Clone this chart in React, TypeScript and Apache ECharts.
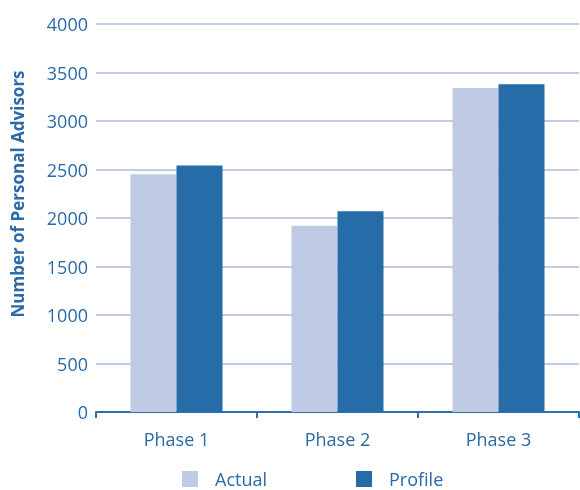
import React, { useEffect, useRef } from "react";
import * as echarts from "echarts";

const categories = ["Phase 1", "Phase 2", "Phase 3"];
const actual = [2450, 1920, 3340];
const profile = [2540, 2070, 3380];
const yTicks = [0, 500, 1000, 1500, 2000, 2500, 3000, 3500, 4000];

const TEXT = "#2a6aa8";
const FONT = "Open Sans";

export default function App() {
  const ref = useRef<HTMLDivElement>(null);

  useEffect(() => {
    if (!ref.current) return;
    const chart = echarts.init(ref.current, null, { renderer: "svg" });
    chart.setOption({
      animation: false,
      textStyle: { fontFamily: FONT },
      grid: { left: 96, right: 1, top: 24, bottom: 78, containLabel: false },
      legend: {
        top: 470,
        left: 182,
        padding: 0,
        itemWidth: 16,
        itemHeight: 16,
        itemGap: 89,
        icon: "rect",
        textStyle: {
          color: TEXT,
          fontSize: 18,
          lineHeight: 18,
          fontFamily: FONT,
          padding: [0, 0, 0, 12],
        },
        data: ["Actual", "Profile"],
      },
      xAxis: {
        type: "category",
        data: categories,
        axisLine: { lineStyle: { color: "#2f6fab", width: 2 } },
        axisTick: { show: true, length: 6, lineStyle: { color: "#2f6fab", width: 2 } },
        axisLabel: { color: TEXT, fontSize: 18, margin: 18, fontFamily: FONT },
      },
      yAxis: {
        type: "value",
        min: 0,
        max: yTicks[yTicks.length - 1],
        interval: 500,
        axisLine: { show: false },
        axisTick: { show: false },
        axisLabel: {
          color: TEXT,
          fontSize: 18,
          margin: 8,
          fontFamily: FONT,
          formatter: (v: number) => String(v),
        },
        splitLine: { lineStyle: { color: "#c0cce2", width: 2 } },
      },
      graphic: [
        {
          type: "text",
          x: 17,
          y: 194,
          rotation: Math.PI / 2,
          style: {
            text: "Number of Personal Advisors",
            fill: TEXT,
            font: `bold 17px "${FONT}"`,
            align: "center",
            verticalAlign: "middle",
          },
        },
      ],
      series: [
        {
          name: "Actual",
          type: "bar",
          data: actual,
          barWidth: 46,
          barGap: "0%",
          itemStyle: { color: "#bfcae4" },
        },
        {
          name: "Profile",
          type: "bar",
          data: profile,
          barWidth: 46,
          barGap: "0%",
          itemStyle: { color: "#266ca8" },
        },
      ],
    });
    return () => chart.dispose();
  }, []);

  return (
    <div
      ref={ref}
      style={{ position: "fixed", left: 0, top: 0, width: 580, height: 490 }}
    />
  );
}
